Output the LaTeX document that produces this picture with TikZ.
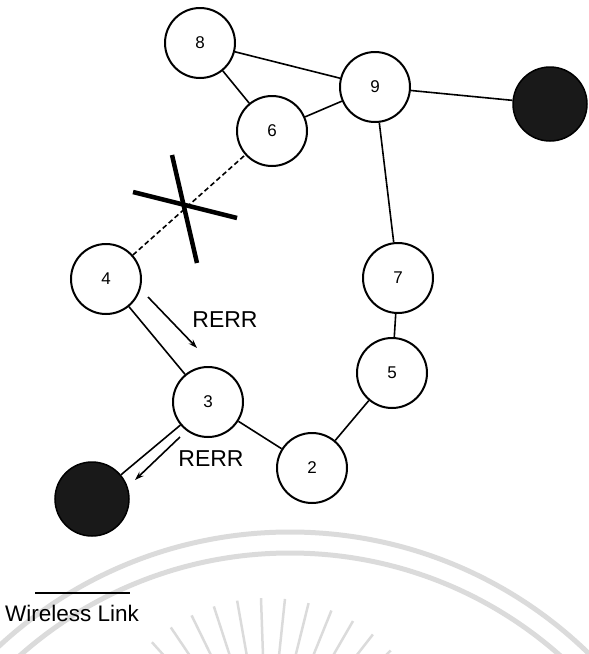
\documentclass[tikz,border=0pt]{standalone}
\usepackage{fontspec}
\setmainfont{Liberation Sans}
\usepackage{tikz}
\usetikzlibrary{arrows.meta,positioning,calc}
\definecolor{markgray}{gray}{0.86}
\tikzstyle{host} = [circle, draw, line width=2pt, minimum size=70pt, inner sep=0pt, font=\fontsize{17}{17}\selectfont]
\tikzstyle{dest} = [circle, draw, fill=black!90, line width=1.5pt, minimum size=74pt, inner sep=0pt]
\tikzstyle{link} = [line width=1.6pt]
\tikzstyle{arrow} = [line width=1.6pt,-{Stealth[length=9pt,width=6pt]}]
\tikzstyle{label} = [font=\fontsize{23}{23}\selectfont, inner sep=1pt]

\begin{document}
\begin{tikzpicture}[x=1pt, y=-1pt]
    \useasboundingbox (0,0) rectangle (589,654);
    % watermark
    \begin{scope}
        \clip (0,0) rectangle (589,654);
        \draw[markgray, line width=5pt] (290,960) circle (428);
        \draw[markgray, line width=5pt] (290,960) circle (407);
        \foreach \a in {204,212,...,336}
            \draw[markgray, line width=2.5pt] ($(267,770)+(\a:110)$) -- ($(267,770)+(\a:172)$);
    \end{scope}
    % nodes
    \node[host] (n8) at (200,43) {8};
    \node[host] (n9) at (375,87) {9};
    \node[host] (n6) at (272,131) {6};
    \node[host] (n7) at (398,278) {7};
    \node[host] (n4) at (106,279) {4};
    \node[host] (n5) at (392,373) {5};
    \node[host] (n3) at (208,402) {3};
    \node[host] (n2) at (312,468) {2};
    \node[dest] (dR) at (550,104) {};
    \node[dest] (dL) at (92,499) {};
    % links
    \draw[link] (n8) -- (n9);
    \draw[link] (n8) -- (n6);
    \draw[link] (n6) -- (n9);
    \draw[link] (n9) -- (dR);
    \draw[link] (n9) -- (n7);
    \draw[link] (n7) -- (n5);
    \draw[link] (n5) -- (n2);
    \draw[link] (n2) -- (n3);
    \draw[link] (n3) -- (dL);
    \draw[link] (n4) -- (n3);
    \draw[link, dashed, dash pattern=on 5pt off 3pt] (n4) -- (n6);
    % broken link
    \coordinate (xa1) at (172,155);
    \coordinate (xa2) at (197,263);
    \coordinate (xb1) at (133,192);
    \coordinate (xb2) at (237,218);
    \draw[line width=4.5pt] (xa1) -- (xa2);
    \draw[line width=4.5pt] (xb1) -- (xb2);
    % route error messages
    \coordinate (r1s) at (148,297);
    \coordinate (r1e) at (197,348);
    \coordinate (r2s) at (180,437);
    \coordinate (r2e) at (135,480);
    \draw[arrow] (r1s) -- (r1e);
    \draw[arrow] (r2s) -- (r2e);
    \node[label] (rerr1) at (225,320) {RERR};
    \node[label] (rerr2) at (211,459) {RERR};
    % legend
    \coordinate (lg1) at (35,593);
    \coordinate (lg2) at (130,593);
    \draw[link] (lg1) -- (lg2);
    \node[font=\fontsize{22.5}{22.5}\selectfont, anchor=west, inner sep=0pt] (lgtext) at (5,613) {Wireless Link};
\end{tikzpicture}
\end{document}
